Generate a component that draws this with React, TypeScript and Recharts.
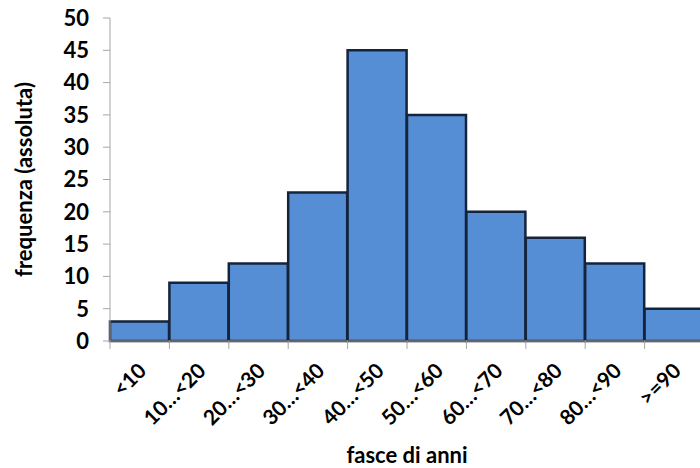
import { BarChart, Bar, XAxis, YAxis, Label } from 'recharts';

const categories = ['<10', '10…<20', '20…<30', '30…<40', '40…<50', '50…<60', '60…<70', '70…<80', '80…<90', '>=90'];
const frequenze = [3, 9, 12, 23, 45, 35, 20, 16, 12, 5];
const yTicks = [0, 5, 10, 15, 20, 25, 30, 35, 40, 45, 50];

const data = categories.map((c, i) => ({ fascia: c, freq: frequenze[i] }));

const FONT = 'Lato, "Open Sans", sans-serif';
const AXIS_GREY = '#a6a6a6';

function XTick(props: any) {
  const { x, y, payload } = props;
  const half = payload?.offset ?? 29.7;
  return (
    <g>
      <line x1={x - half} y1={y - 10} x2={x - half} y2={y - 2} stroke={AXIS_GREY} strokeWidth={1} />
      <text
        x={x + 2}
        y={y + 15}
        transform={`rotate(-45, ${x + 2}, ${y + 15})`}
        textAnchor="end"
        dominantBaseline="central"
        fontFamily={FONT}
        fontWeight={700}
        fontSize={21}
        fill="#000"
      >
        {payload.value}
      </text>
    </g>
  );
}

export default function App() {
  return (
    <div style={{ position: 'absolute', left: 0, top: 0, width: 700, height: 468, overflow: 'hidden', background: '#fff' }}>
      <BarChart
        width={712}
        height={468}
        data={data}
        margin={{ top: 18, right: 8, left: 0, bottom: 0 }}
        barCategoryGap={0}
      >
        <XAxis
          dataKey="fascia"
          height={127}
          interval={0}
          tick={<XTick />}
          tickLine={false}
          tickSize={8}
          axisLine={{ stroke: AXIS_GREY }}
        >
          <Label
            value="fasce di anni"
            position="insideBottom"
            offset={5}
            style={{ fontFamily: FONT, fontWeight: 700, fontSize: 22, fill: '#000' }}
          />
        </XAxis>
        <YAxis
          width={110}
          domain={[0, 50]}
          ticks={yTicks}
          interval={0}
          tickSize={7}
          tickMargin={14}
          tickLine={{ stroke: AXIS_GREY }}
          axisLine={{ stroke: AXIS_GREY }}
          tick={{ fontFamily: FONT, fontWeight: 700, fontSize: 22, fill: '#000' }}
        >
          <Label
            value="frequenza (assoluta)"
            angle={-90}
            position="insideLeft"
            offset={24}
            style={{ textAnchor: 'middle', fontFamily: FONT, fontWeight: 700, fontSize: 22, fill: '#000' }}
          />
        </YAxis>
        <Bar dataKey="freq" fill="#558ed5" stroke="#14243d" strokeWidth={2.5} isAnimationActive={false} />
      </BarChart>
    </div>
  );
}
